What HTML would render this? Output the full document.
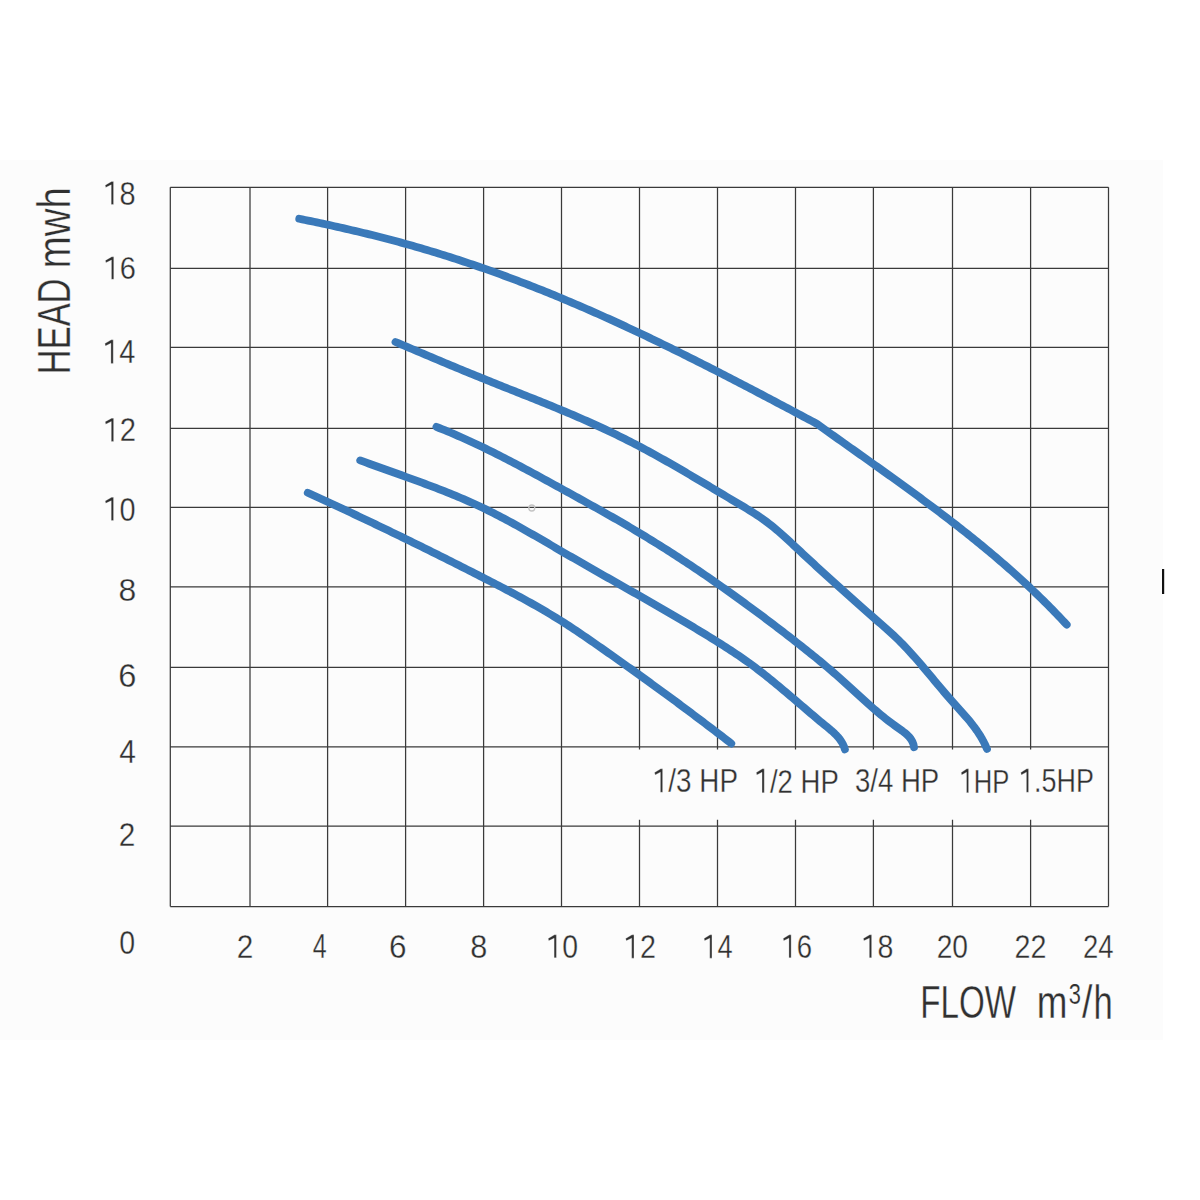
<!DOCTYPE html>
<html><head><meta charset="utf-8"><title>Pump performance curves</title>
<style>
html,body{margin:0;padding:0;background:#ffffff;width:1200px;height:1200px;overflow:hidden}
svg{display:block}
text{font-family:"Liberation Sans",sans-serif;font-size:100px}
.lbl{fill:#303030;stroke:#fcfcfc;stroke-linejoin:round}
</style></head><body>
<svg width="1200" height="1200" viewBox="0 0 1200 1200">
<rect x="0" y="0" width="1200" height="1200" fill="#ffffff"/>
<rect x="0" y="160" width="1163" height="880" fill="#fcfcfc"/>

<path d="M170.30,187.30H1108.50M170.30,268.40H1108.50M170.30,347.40H1108.50M170.30,428.40H1108.50M170.30,507.40H1108.50M170.30,586.80H1108.50M170.30,667.30H1108.50M170.30,746.80H1108.50M170.30,826.00H1108.50M170.30,906.60H1108.50M170.30,187.30V906.60M250.00,187.30V906.60M327.60,187.30V906.60M405.60,187.30V906.60M483.60,187.30V906.60M561.50,187.30V906.60M639.50,187.30V749.5M639.50,819.8V906.60M717.50,187.30V749.5M717.50,819.8V906.60M795.50,187.30V749.5M795.50,819.8V906.60M873.40,187.30V749.5M873.40,819.8V906.60M952.50,187.30V749.5M952.50,819.8V906.60M1030.60,187.30V749.5M1030.60,819.8V906.60M1108.50,187.30V906.60" fill="none" stroke="#3a3a3a" stroke-width="1.25"/>
<path d="M299.25,218.76 L302.18,219.36 L305.11,219.96 L308.03,220.56 L310.96,221.17 L313.89,221.78 L316.82,222.40 L319.74,223.02 L322.67,223.64 L325.59,224.28 L328.52,224.91 L331.44,225.55 L334.36,226.20 L337.28,226.85 L340.20,227.50 L343.11,228.16 L346.03,228.83 L348.94,229.50 L351.86,230.18 L354.77,230.86 L357.68,231.55 L360.59,232.24 L363.50,232.94 L366.40,233.65 L369.31,234.36 L372.21,235.08 L375.11,235.81 L378.01,236.54 L380.91,237.27 L383.81,238.02 L386.70,238.77 L389.59,239.53 L392.48,240.29 L395.37,241.06 L398.26,241.84 L401.14,242.62 L404.02,243.42 L406.90,244.22 L409.78,245.02 L412.66,245.84 L415.53,246.66 L418.40,247.49 L421.27,248.32 L424.14,249.16 L427.00,250.01 L429.86,250.87 L432.72,251.73 L435.58,252.60 L438.44,253.48 L441.29,254.36 L444.14,255.26 L446.99,256.15 L449.84,257.06 L452.69,257.97 L455.53,258.89 L458.37,259.81 L461.21,260.74 L464.04,261.68 L466.88,262.63 L469.71,263.58 L472.54,264.54 L475.37,265.50 L478.19,266.47 L481.01,267.45 L483.84,268.43 L486.65,269.42 L489.47,270.42 L492.28,271.42 L495.10,272.43 L497.91,273.44 L500.71,274.46 L503.52,275.49 L506.32,276.52 L509.12,277.56 L511.92,278.61 L514.72,279.66 L517.51,280.72 L520.31,281.78 L523.10,282.85 L525.89,283.92 L528.67,285.00 L531.45,286.09 L534.24,287.18 L537.02,288.28 L539.79,289.38 L542.57,290.49 L545.34,291.60 L548.11,292.72 L550.88,293.85 L553.64,294.98 L556.41,296.12 L559.17,297.26 L561.93,298.41 L564.69,299.56 L567.44,300.72 L570.19,301.88 L572.94,303.05 L575.69,304.22 L578.44,305.40 L581.18,306.59 L583.93,307.77 L586.67,308.97 L589.41,310.17 L592.14,311.37 L594.88,312.58 L597.61,313.79 L600.34,315.01 L603.07,316.23 L605.79,317.45 L608.52,318.68 L611.24,319.92 L613.96,321.16 L616.68,322.40 L619.40,323.65 L622.11,324.90 L624.83,326.16 L627.54,327.42 L630.25,328.68 L632.96,329.95 L635.66,331.22 L638.37,332.50 L641.07,333.78 L643.77,335.06 L646.47,336.35 L649.17,337.64 L651.87,338.93 L654.56,340.23 L657.26,341.53 L659.95,342.83 L662.64,344.14 L665.33,345.45 L668.01,346.77 L670.70,348.08 L673.38,349.40 L676.07,350.73 L678.75,352.05 L681.43,353.38 L684.11,354.71 L686.79,356.05 L689.46,357.39 L692.14,358.73 L694.81,360.07 L697.48,361.41 L700.15,362.76 L702.82,364.11 L705.49,365.47 L708.16,366.82 L710.83,368.18 L713.49,369.54 L716.15,370.90 L718.82,372.26 L721.48,373.63 L724.14,375.00 L726.80,376.37 L729.46,377.74 L732.11,379.11 L734.77,380.49 L737.42,381.86 L740.08,383.24 L742.73,384.62 L745.38,386.00 L748.04,387.39 L750.69,388.77 L753.34,390.16 L755.98,391.55 L758.63,392.93 L761.28,394.32 L763.92,395.72 L766.57,397.11 L769.21,398.50 L771.86,399.89 L774.50,401.29 L777.14,402.69 L779.79,404.08 L782.43,405.48 L785.07,406.88 L787.71,408.28 L790.34,409.68 L792.98,411.08 L795.62,412.48 L798.26,413.88 L800.89,415.28 L803.53,416.68 L806.17,418.08 L808.80,419.48 L811.44,420.89 L814.07,422.29 L816.70,423.69 M816.70,423.70 L819.12,425.43 L821.53,427.16 L823.95,428.88 L826.37,430.61 L828.79,432.33 L831.21,434.06 L833.63,435.78 L836.05,437.50 L838.48,439.22 L840.90,440.95 L843.33,442.67 L845.76,444.39 L848.18,446.11 L850.61,447.83 L853.04,449.55 L855.47,451.27 L857.90,453.00 L860.32,454.72 L862.75,456.44 L865.18,458.17 L867.61,459.89 L870.04,461.62 L872.46,463.34 L874.89,465.07 L877.32,466.80 L879.74,468.53 L882.17,470.26 L884.59,471.99 L887.01,473.73 L889.44,475.47 L891.86,477.20 L894.28,478.94 L896.69,480.69 L899.11,482.43 L901.52,484.18 L903.94,485.93 L906.35,487.68 L908.76,489.43 L911.16,491.19 L913.57,492.95 L915.97,494.71 L918.37,496.47 L920.77,498.24 L923.16,500.01 L925.56,501.79 L927.95,503.57 L930.33,505.35 L932.72,507.13 L935.10,508.92 L937.48,510.71 L939.85,512.51 L942.23,514.31 L944.59,516.11 L946.96,517.92 L949.32,519.74 L951.68,521.55 L954.03,523.37 L956.38,525.20 L958.73,527.03 L961.07,528.87 L963.41,530.71 L965.74,532.55 L968.07,534.41 L970.39,536.26 L972.71,538.12 L975.03,539.99 L977.34,541.86 L979.64,543.74 L981.94,545.63 L984.24,547.52 L986.53,549.41 L988.81,551.31 L991.09,553.22 L993.37,555.14 L995.64,557.06 L997.90,558.98 L1000.16,560.92 L1002.41,562.86 L1004.65,564.81 L1006.89,566.76 L1009.12,568.72 L1011.35,570.69 L1013.57,572.66 L1015.78,574.65 L1017.99,576.64 L1020.19,578.64 L1022.38,580.64 L1024.57,582.65 L1026.75,584.67 L1028.92,586.70 L1031.09,588.74 L1033.25,590.78 L1035.40,592.84 L1037.54,594.90 L1039.68,596.97 L1041.81,599.05 L1043.93,601.14 L1046.04,603.23 L1048.14,605.34 L1050.24,607.45 L1052.33,609.57 L1054.41,611.70 L1056.48,613.85 L1058.54,616.00 L1060.60,618.16 L1062.64,620.33 L1064.68,622.51 L1066.71,624.70" fill="none" stroke="#3a79b9" stroke-width="7.8" stroke-linecap="round" stroke-linejoin="round"/>
<path d="M395.49,342.02 L398.25,343.18 L401.01,344.35 L403.77,345.51 L406.53,346.68 L409.28,347.85 L412.04,349.01 L414.80,350.18 L417.56,351.35 L420.32,352.51 L423.08,353.68 L425.84,354.85 L428.60,356.01 L431.36,357.18 L434.12,358.34 L436.89,359.50 L439.65,360.66 L442.41,361.82 L445.18,362.98 L447.94,364.14 L450.71,365.29 L453.48,366.45 L456.24,367.60 L459.01,368.75 L461.78,369.90 L464.56,371.04 L467.33,372.18 L470.10,373.32 L472.88,374.46 L475.65,375.60 L478.43,376.73 L481.21,377.86 L483.99,378.98 L486.77,380.10 L489.55,381.22 L492.33,382.34 L495.12,383.45 L497.90,384.56 L500.69,385.67 L503.48,386.78 L506.26,387.89 L509.05,389.00 L511.84,390.10 L514.63,391.21 L517.41,392.32 L520.20,393.42 L522.99,394.53 L525.77,395.64 L528.56,396.75 L531.34,397.86 L534.13,398.97 L536.91,400.09 L539.69,401.21 L542.47,402.33 L545.25,403.45 L548.03,404.58 L550.80,405.71 L553.58,406.85 L556.35,407.99 L559.12,409.14 L561.89,410.29 L564.65,411.44 L567.41,412.61 L570.17,413.77 L572.93,414.95 L575.68,416.13 L578.43,417.32 L581.18,418.51 L583.93,419.72 L586.67,420.93 L589.40,422.15 L592.14,423.37 L594.87,424.61 L597.59,425.86 L600.31,427.11 L603.03,428.37 L605.74,429.65 L608.45,430.93 L611.15,432.22 L613.85,433.52 L616.55,434.83 L619.24,436.15 L621.93,437.48 L624.61,438.82 L627.28,440.17 L629.95,441.53 L632.62,442.90 L635.28,444.27 L637.94,445.66 L640.59,447.05 L643.24,448.46 L645.88,449.87 L648.52,451.30 L651.15,452.73 L653.78,454.17 L656.40,455.62 L659.02,457.07 L661.64,458.54 L664.25,460.01 L666.86,461.48 L669.46,462.96 L672.06,464.45 L674.66,465.95 L677.26,467.45 L679.85,468.95 L682.45,470.46 L685.04,471.97 L687.62,473.49 L690.21,475.01 L692.79,476.53 L695.37,478.06 L697.95,479.59 L700.53,481.12 L703.11,482.65 L705.69,484.18 L708.27,485.72 L710.84,487.26 L713.42,488.79 L715.99,490.33 L718.57,491.87 L721.14,493.41 L723.72,494.94 L726.30,496.48 L728.87,498.01 L731.45,499.55 L734.03,501.08 L736.61,502.61 L739.19,504.13 L741.77,505.67 L744.34,507.21 L746.91,508.75 L749.46,510.32 L752.00,511.90 L754.52,513.51 L757.03,515.14 L759.52,516.80 L761.98,518.49 L764.41,520.22 L766.82,521.99 L769.20,523.80 L771.55,525.65 L773.87,527.54 L776.17,529.46 L778.45,531.41 L780.71,533.39 L782.96,535.38 L785.19,537.40 L787.41,539.43 L789.62,541.47 L791.82,543.52 L794.02,545.58 L796.22,547.63 L798.42,549.68 L800.63,551.73 L802.83,553.78 L805.03,555.82 L807.23,557.86 L809.44,559.90 L811.64,561.94 L813.85,563.98 L816.06,566.01 L818.27,568.04 L820.48,570.07 L822.69,572.09 L824.90,574.12 L827.12,576.14 L829.33,578.16 L831.55,580.17 L833.77,582.19 L835.99,584.20 L838.21,586.21 L840.43,588.21 L842.66,590.22 L844.89,592.22 L847.12,594.22 L849.35,596.21 L851.59,598.20 L853.82,600.20 L856.06,602.18 L858.30,604.17 L860.55,606.15 L862.79,608.13 L865.04,610.11 L867.29,612.09 L869.55,614.06 L871.81,616.03 L874.07,618.00 L876.33,619.97 L878.59,621.93 L880.85,623.90 L883.11,625.88 L885.35,627.86 L887.59,629.85 L889.81,631.86 L892.02,633.88 L894.21,635.92 L896.38,637.98 L898.53,640.07 L900.66,642.17 L902.76,644.31 L904.84,646.46 L906.89,648.64 L908.93,650.83 L910.95,653.04 L912.96,655.27 L914.94,657.52 L916.92,659.77 L918.88,662.04 L920.83,664.32 L922.78,666.60 L924.71,668.89 L926.64,671.19 L928.56,673.49 L930.48,675.79 L932.40,678.09 L934.31,680.40 L936.23,682.70 L938.15,685.00 L940.08,687.30 L942.00,689.59 L943.94,691.87 L945.88,694.15 L947.84,696.42 L949.80,698.68 L951.78,700.93 L953.77,703.17 L955.78,705.40 L957.79,707.62 L959.80,709.84 L961.80,712.07 L963.79,714.30 L965.77,716.55 L967.71,718.82 L969.63,721.12 L971.51,723.44 L973.34,725.79 L975.13,728.19 L976.86,730.62 L978.53,733.09 L980.13,735.61 L981.66,738.18 L983.12,740.80 L984.50,743.48 L985.79,746.21 L987.00,749.00" fill="none" stroke="#3a79b9" stroke-width="7.8" stroke-linecap="round" stroke-linejoin="round"/>
<path d="M436.40,426.90 L439.18,428.00 L441.96,429.11 L444.73,430.23 L447.50,431.37 L450.25,432.53 L453.00,433.69 L455.75,434.87 L458.49,436.07 L461.22,437.27 L463.95,438.49 L466.67,439.72 L469.39,440.96 L472.10,442.21 L474.81,443.47 L477.51,444.75 L480.21,446.03 L482.90,447.32 L485.59,448.62 L488.27,449.94 L490.95,451.26 L493.63,452.59 L496.30,453.92 L498.97,455.27 L501.63,456.62 L504.29,457.98 L506.95,459.35 L509.60,460.73 L512.25,462.11 L514.90,463.49 L517.55,464.88 L520.19,466.28 L522.83,467.69 L525.47,469.09 L528.10,470.51 L530.73,471.92 L533.37,473.34 L536.00,474.77 L538.62,476.19 L541.25,477.62 L543.87,479.05 L546.50,480.49 L549.12,481.92 L551.74,483.36 L554.36,484.80 L556.98,486.24 L559.60,487.68 L562.22,489.12 L564.84,490.56 L567.46,492.01 L570.08,493.45 L572.69,494.89 L575.31,496.33 L577.93,497.78 L580.54,499.22 L583.15,500.67 L585.77,502.12 L588.38,503.57 L590.99,505.03 L593.60,506.48 L596.20,507.94 L598.81,509.40 L601.41,510.87 L604.01,512.34 L606.61,513.81 L609.21,515.28 L611.80,516.76 L614.39,518.24 L616.98,519.73 L619.57,521.22 L622.15,522.72 L624.73,524.22 L627.31,525.73 L629.88,527.24 L632.45,528.76 L635.02,530.28 L637.58,531.81 L640.14,533.35 L642.70,534.89 L645.25,536.44 L647.80,538.00 L650.35,539.56 L652.89,541.13 L655.43,542.70 L657.97,544.28 L660.50,545.86 L663.03,547.46 L665.55,549.05 L668.07,550.66 L670.59,552.27 L673.10,553.88 L675.61,555.50 L678.12,557.13 L680.62,558.76 L683.12,560.40 L685.62,562.04 L688.11,563.69 L690.60,565.35 L693.09,567.01 L695.57,568.67 L698.05,570.34 L700.52,572.02 L703.00,573.70 L705.47,575.38 L707.93,577.07 L710.40,578.77 L712.85,580.47 L715.31,582.17 L717.76,583.88 L720.21,585.60 L722.66,587.32 L725.10,589.04 L727.54,590.77 L729.98,592.51 L732.41,594.25 L734.84,595.99 L737.27,597.74 L739.70,599.49 L742.12,601.24 L744.54,603.00 L746.95,604.77 L749.36,606.54 L751.77,608.31 L754.18,610.09 L756.58,611.87 L758.98,613.65 L761.38,615.44 L763.77,617.23 L766.16,619.03 L768.55,620.83 L770.93,622.64 L773.32,624.44 L775.70,626.25 L778.07,628.07 L780.44,629.89 L782.82,631.71 L785.18,633.53 L787.55,635.36 L789.91,637.19 L792.27,639.03 L794.63,640.87 L796.98,642.71 L799.33,644.56 L801.68,646.40 L804.02,648.26 L806.36,650.12 L808.69,651.98 L811.02,653.85 L813.35,655.72 L815.66,657.60 L817.98,659.49 L820.28,661.38 L822.58,663.29 L824.87,665.20 L827.16,667.12 L829.43,669.04 L831.70,670.98 L833.96,672.93 L836.21,674.88 L838.45,676.85 L840.68,678.83 L842.90,680.81 L845.11,682.81 L847.31,684.81 L849.51,686.82 L851.71,688.84 L853.91,690.86 L856.10,692.87 L858.30,694.89 L860.50,696.91 L862.71,698.92 L864.92,700.92 L867.14,702.92 L869.37,704.91 L871.61,706.89 L873.87,708.85 L876.14,710.81 L878.43,712.74 L880.73,714.67 L883.06,716.57 L885.40,718.45 L887.77,720.31 L890.16,722.15 L892.58,723.96 L895.03,725.74 L897.51,727.50 L899.99,729.24 L902.45,731.00 L904.81,732.82 L907.03,734.74 L909.06,736.79 L910.83,739.02 L912.30,741.47 L913.38,744.18 L914.02,747.19" fill="none" stroke="#3a79b9" stroke-width="7.8" stroke-linecap="round" stroke-linejoin="round"/>
<path d="M360.20,460.40 L363.00,461.43 L365.79,462.45 L368.60,463.46 L371.40,464.48 L374.21,465.49 L377.01,466.50 L379.83,467.50 L382.64,468.51 L385.45,469.51 L388.26,470.52 L391.08,471.52 L393.89,472.52 L396.71,473.53 L399.52,474.53 L402.34,475.54 L405.15,476.55 L407.96,477.57 L410.78,478.58 L413.59,479.61 L416.40,480.63 L419.20,481.66 L422.01,482.70 L424.81,483.74 L427.61,484.79 L430.41,485.84 L433.21,486.90 L436.00,487.97 L438.78,489.05 L441.57,490.13 L444.35,491.23 L447.12,492.34 L449.89,493.45 L452.66,494.58 L455.42,495.71 L458.18,496.86 L460.92,498.02 L463.67,499.20 L466.41,500.38 L469.14,501.58 L471.86,502.80 L474.58,504.03 L477.29,505.27 L479.99,506.53 L482.69,507.81 L485.37,509.10 L488.05,510.41 L490.73,511.73 L493.39,513.07 L496.05,514.42 L498.70,515.79 L501.34,517.17 L503.98,518.56 L506.62,519.96 L509.24,521.38 L511.87,522.80 L514.48,524.24 L517.10,525.68 L519.71,527.13 L522.31,528.59 L524.91,530.06 L527.51,531.53 L530.11,533.02 L532.70,534.50 L535.29,535.99 L537.88,537.49 L540.47,538.98 L543.05,540.48 L545.64,541.99 L548.22,543.49 L550.80,545.00 L553.38,546.50 L555.97,548.01 L558.55,549.51 L561.13,551.01 L563.72,552.51 L566.30,554.01 L568.89,555.51 L571.48,557.00 L574.07,558.49 L576.66,559.98 L579.25,561.47 L581.84,562.95 L584.43,564.44 L587.02,565.92 L589.61,567.40 L592.20,568.88 L594.80,570.36 L597.39,571.84 L599.99,573.32 L602.58,574.79 L605.17,576.27 L607.77,577.74 L610.36,579.22 L612.96,580.69 L615.55,582.17 L618.15,583.64 L620.74,585.12 L623.34,586.59 L625.93,588.07 L628.53,589.54 L631.12,591.02 L633.72,592.49 L636.31,593.97 L638.90,595.45 L641.49,596.93 L644.09,598.40 L646.68,599.89 L649.27,601.37 L651.86,602.85 L654.45,604.34 L657.03,605.83 L659.62,607.32 L662.20,608.81 L664.79,610.30 L667.37,611.80 L669.95,613.30 L672.53,614.80 L675.11,616.31 L677.68,617.82 L680.25,619.33 L682.82,620.85 L685.39,622.37 L687.96,623.90 L690.52,625.42 L693.08,626.96 L695.64,628.50 L698.20,630.04 L700.75,631.59 L703.30,633.14 L705.85,634.70 L708.39,636.26 L710.94,637.83 L713.47,639.41 L716.01,640.99 L718.54,642.58 L721.06,644.17 L723.59,645.78 L726.10,647.39 L728.61,649.01 L731.11,650.64 L733.61,652.28 L736.09,653.94 L738.57,655.60 L741.03,657.29 L743.49,658.99 L745.93,660.70 L748.35,662.43 L750.77,664.18 L753.17,665.95 L755.55,667.73 L757.93,669.53 L760.29,671.35 L762.65,673.18 L764.99,675.02 L767.32,676.88 L769.65,678.74 L771.97,680.62 L774.28,682.51 L776.58,684.40 L778.88,686.31 L781.17,688.22 L783.46,690.14 L785.74,692.07 L788.02,694.00 L790.30,695.93 L792.57,697.87 L794.85,699.81 L797.12,701.76 L799.40,703.70 L801.67,705.65 L803.95,707.59 L806.22,709.54 L808.50,711.48 L810.79,713.42 L813.07,715.35 L815.37,717.29 L817.66,719.21 L819.97,721.13 L822.28,723.05 L824.59,724.95 L826.92,726.85 L829.23,728.76 L831.50,730.68 L833.71,732.66 L835.82,734.69 L837.81,736.82 L839.65,739.04 L841.31,741.39 L842.76,743.89 L843.97,746.54 L844.93,749.38" fill="none" stroke="#3a79b9" stroke-width="7.8" stroke-linecap="round" stroke-linejoin="round"/>
<path d="M307.75,492.75 L310.48,493.99 L313.20,495.23 L315.92,496.47 L318.64,497.72 L321.36,498.96 L324.08,500.21 L326.80,501.47 L329.52,502.72 L332.24,503.98 L334.95,505.24 L337.67,506.50 L340.38,507.76 L343.09,509.03 L345.80,510.29 L348.51,511.56 L351.22,512.83 L353.93,514.11 L356.64,515.38 L359.35,516.66 L362.05,517.94 L364.76,519.22 L367.46,520.51 L370.16,521.79 L372.86,523.08 L375.57,524.37 L378.27,525.66 L380.96,526.96 L383.66,528.25 L386.36,529.55 L389.06,530.85 L391.75,532.15 L394.44,533.46 L397.14,534.76 L399.83,536.07 L402.52,537.38 L405.21,538.69 L407.90,540.01 L410.59,541.32 L413.28,542.64 L415.97,543.96 L418.65,545.28 L421.34,546.61 L424.02,547.93 L426.71,549.26 L429.39,550.59 L432.07,551.92 L434.75,553.25 L437.43,554.59 L440.11,555.92 L442.79,557.26 L445.47,558.60 L448.15,559.94 L450.82,561.29 L453.50,562.63 L456.17,563.98 L458.84,565.33 L461.52,566.68 L464.19,568.03 L466.86,569.38 L469.53,570.74 L472.20,572.10 L474.87,573.46 L477.54,574.82 L480.21,576.18 L482.87,577.54 L485.54,578.91 L488.20,580.28 L490.87,581.65 L493.53,583.02 L496.19,584.40 L498.85,585.78 L501.50,587.16 L504.16,588.55 L506.81,589.95 L509.45,591.34 L512.10,592.75 L514.74,594.16 L517.38,595.58 L520.01,597.00 L522.64,598.43 L525.26,599.87 L527.88,601.31 L530.50,602.77 L533.10,604.23 L535.71,605.71 L538.30,607.19 L540.90,608.68 L543.48,610.19 L546.06,611.70 L548.63,613.23 L551.19,614.76 L553.75,616.31 L556.30,617.88 L558.84,619.45 L561.37,621.04 L563.90,622.64 L566.41,624.26 L568.92,625.88 L571.42,627.52 L573.92,629.17 L576.41,630.83 L578.89,632.50 L581.37,634.17 L583.84,635.86 L586.31,637.55 L588.78,639.25 L591.24,640.95 L593.70,642.66 L596.15,644.37 L598.61,646.08 L601.06,647.80 L603.51,649.52 L605.96,651.24 L608.41,652.96 L610.86,654.68 L613.31,656.41 L615.75,658.13 L618.19,659.86 L620.64,661.60 L623.08,663.33 L625.52,665.06 L627.95,666.80 L630.39,668.54 L632.83,670.28 L635.26,672.02 L637.69,673.77 L640.12,675.52 L642.55,677.26 L644.98,679.02 L647.41,680.77 L649.83,682.52 L652.25,684.28 L654.67,686.04 L657.09,687.80 L659.51,689.57 L661.93,691.33 L664.34,693.10 L666.76,694.87 L669.17,696.64 L671.58,698.42 L673.99,700.20 L676.39,701.98 L678.80,703.76 L681.20,705.54 L683.60,707.33 L686.00,709.12 L688.40,710.91 L690.80,712.70 L693.19,714.50 L695.58,716.29 L697.97,718.09 L700.36,719.90 L702.75,721.70 L705.14,723.51 L707.52,725.31 L709.91,727.12 L712.29,728.94 L714.67,730.75 L717.05,732.57 L719.43,734.38 L721.81,736.20 L724.18,738.02 L726.56,739.85 L728.93,741.67 L731.30,743.50" fill="none" stroke="#3a79b9" stroke-width="7.8" stroke-linecap="round" stroke-linejoin="round"/>
<circle cx="531.8" cy="508" r="3" fill="none" stroke="#c4c4c4" stroke-width="1.3"/>
<rect x="1162" y="569" width="2.2" height="25" fill="#111"/>
<g class="lbl">
<g transform="matrix(0.28911 0 0 0.32817 103.42 204.52)" stroke-width="0.972"><text x="0" y="0"> 8</text><path transform="translate(0.000,0)" d="M28,-70 L35,-70 L35,0 L27,0 L27,-60 L8,-52 L6,-59 Z"/></g>
<g transform="matrix(0.29010 0 0 0.32113 103.61 279.33)" stroke-width="0.982"><text x="0" y="0"> 6</text><path transform="translate(0.000,0)" d="M28,-70 L35,-70 L35,0 L27,0 L27,-60 L8,-52 L6,-59 Z"/></g>
<g transform="matrix(0.28922 0 0 0.33714 103.11 363.45)" stroke-width="0.958"><text x="0" y="0"> 4</text><path transform="translate(0.000,0)" d="M28,-70 L35,-70 L35,0 L27,0 L27,-60 L8,-52 L6,-59 Z"/></g>
<g transform="matrix(0.29200 0 0 0.33286 103.40 441.45)" stroke-width="0.960"><text x="0" y="0"> 2</text><path transform="translate(0.000,0)" d="M28,-70 L35,-70 L35,0 L27,0 L27,-60 L8,-52 L6,-59 Z"/></g>
<g transform="matrix(0.28911 0 0 0.33239 103.42 520.62)" stroke-width="0.965"><text x="0" y="0"> 0</text><path transform="translate(0.000,0)" d="M28,-70 L35,-70 L35,0 L27,0 L27,-60 L8,-52 L6,-59 Z"/></g>
<g transform="matrix(0.31915 0 0 0.32113 118.57 600.63)" stroke-width="0.937"><text x="0" y="0">8</text></g>
<g transform="matrix(0.32609 0 0 0.33380 118.22 686.52)" stroke-width="0.909"><text x="0" y="0">6</text></g>
<g transform="matrix(0.30000 0 0 0.33529 119.25 762.99)" stroke-width="0.944"><text x="0" y="0">4</text></g>
<g transform="matrix(0.29783 0 0 0.33714 118.86 846.15)" stroke-width="0.945"><text x="0" y="0">2</text></g>
<g transform="matrix(0.28542 0 0 0.32394 119.21 953.53)" stroke-width="0.985"><text x="0" y="0">0</text></g>
<g transform="matrix(0.29783 0 0 0.33286 236.66 958.15)" stroke-width="0.951"><text x="0" y="0">2</text></g>
<g transform="matrix(0.25098 0 0 0.34265 312.65 958.49)" stroke-width="1.011"><text x="0" y="0">4</text></g>
<g transform="matrix(0.31522 0 0 0.32817 389.07 957.82)" stroke-width="0.933"><text x="0" y="0">6</text></g>
<g transform="matrix(0.30638 0 0 0.32817 470.32 957.82)" stroke-width="0.946"><text x="0" y="0">8</text></g>
<g transform="matrix(0.28416 0 0 0.32817 546.45 957.82)" stroke-width="0.980"><text x="0" y="0"> 0</text><path transform="translate(0.000,0)" d="M28,-70 L35,-70 L35,0 L27,0 L27,-60 L8,-52 L6,-59 Z"/></g>
<g transform="matrix(0.28700 0 0 0.33286 623.93 958.15)" stroke-width="0.968"><text x="0" y="0"> 2</text><path transform="translate(0.000,0)" d="M28,-70 L35,-70 L35,0 L27,0 L27,-60 L8,-52 L6,-59 Z"/></g>
<g transform="matrix(0.27255 0 0 0.33286 702.41 958.15)" stroke-width="0.991"><text x="0" y="0"> 4</text><path transform="translate(0.000,0)" d="M28,-70 L35,-70 L35,0 L27,0 L27,-60 L8,-52 L6,-59 Z"/></g>
<g transform="matrix(0.27525 0 0 0.32817 781.50 957.82)" stroke-width="0.994"><text x="0" y="0"> 6</text><path transform="translate(0.000,0)" d="M28,-70 L35,-70 L35,0 L27,0 L27,-60 L8,-52 L6,-59 Z"/></g>
<g transform="matrix(0.28515 0 0 0.32817 861.64 957.82)" stroke-width="0.978"><text x="0" y="0"> 8</text><path transform="translate(0.000,0)" d="M28,-70 L35,-70 L35,0 L27,0 L27,-60 L8,-52 L6,-59 Z"/></g>
<g transform="matrix(0.28235 0 0 0.32817 936.64 957.82)" stroke-width="0.983"><text x="0" y="0">20</text></g>
<g transform="matrix(0.28713 0 0 0.33286 1014.51 958.15)" stroke-width="0.968"><text x="0" y="0">22</text></g>
<g transform="matrix(0.27476 0 0 0.33286 1082.98 958.15)" stroke-width="0.987"><text x="0" y="0">24</text></g>
<g transform="matrix(0.27840 0 0 0.33514 652.88 792.31)" stroke-width="0.978"><text x="0" y="0"> /3 HP</text><path transform="translate(0.000,0)" d="M28,-70 L35,-70 L35,0 L27,0 L27,-60 L8,-52 L6,-59 Z"/></g>
<g transform="matrix(0.27551 0 0 0.33973 754.60 792.65)" stroke-width="0.975"><text x="0" y="0"> /2 HP</text><path transform="translate(0.000,0)" d="M28,-70 L35,-70 L35,0 L27,0 L27,-60 L8,-52 L6,-59 Z"/></g>
<g transform="matrix(0.27551 0 0 0.33514 855.00 792.31)" stroke-width="0.983"><text x="0" y="0">3/4 HP</text></g>
<g transform="matrix(0.25628 0 0 0.34000 959.61 792.65)" stroke-width="1.006"><text x="0" y="0"> HP</text><path transform="translate(0.000,0)" d="M28,-70 L35,-70 L35,0 L27,0 L27,-60 L8,-52 L6,-59 Z"/></g>
<g transform="matrix(0.26891 0 0 0.33521 1019.14 792.31)" stroke-width="0.993"><text x="0" y="0"> .5HP</text><path transform="translate(0.000,0)" d="M28,-70 L35,-70 L35,0 L27,0 L27,-60 L8,-52 L6,-59 Z"/></g>
<g transform="matrix(0.33179 0 0 0.46901 920.20 1017.68)" stroke-width="0.749"><text x="0" y="0">FLOW</text></g>
<g transform="matrix(0.36857 0 0 0.46296 1036.67 1018.25)" stroke-width="0.722"><text x="0" y="0">m</text></g>
<g transform="matrix(0.21915 0 0 0.29789 1068.80 1004.03)" stroke-width="0.580"><text x="0" y="0">3</text></g>
<g transform="matrix(0.37321 0 0 0.46575 1081.95 1018.25)" stroke-width="0.715"><text x="0" y="0">/</text></g>
<g transform="matrix(0.34643 0 0 0.47778 1093.42 1018.73)" stroke-width="0.728"><text x="0" y="0">h</text></g>
<g transform="matrix(0 -0.34453 0.47101 0 70.15 374.21)" stroke-width="0.736"><text x="0" y="0">HEAD</text></g>
<g transform="matrix(0 -0.38384 0.46301 0 70.15 268.14)" stroke-width="0.709"><text x="0" y="0">mwh</text></g>
</g>
</svg></body></html>
